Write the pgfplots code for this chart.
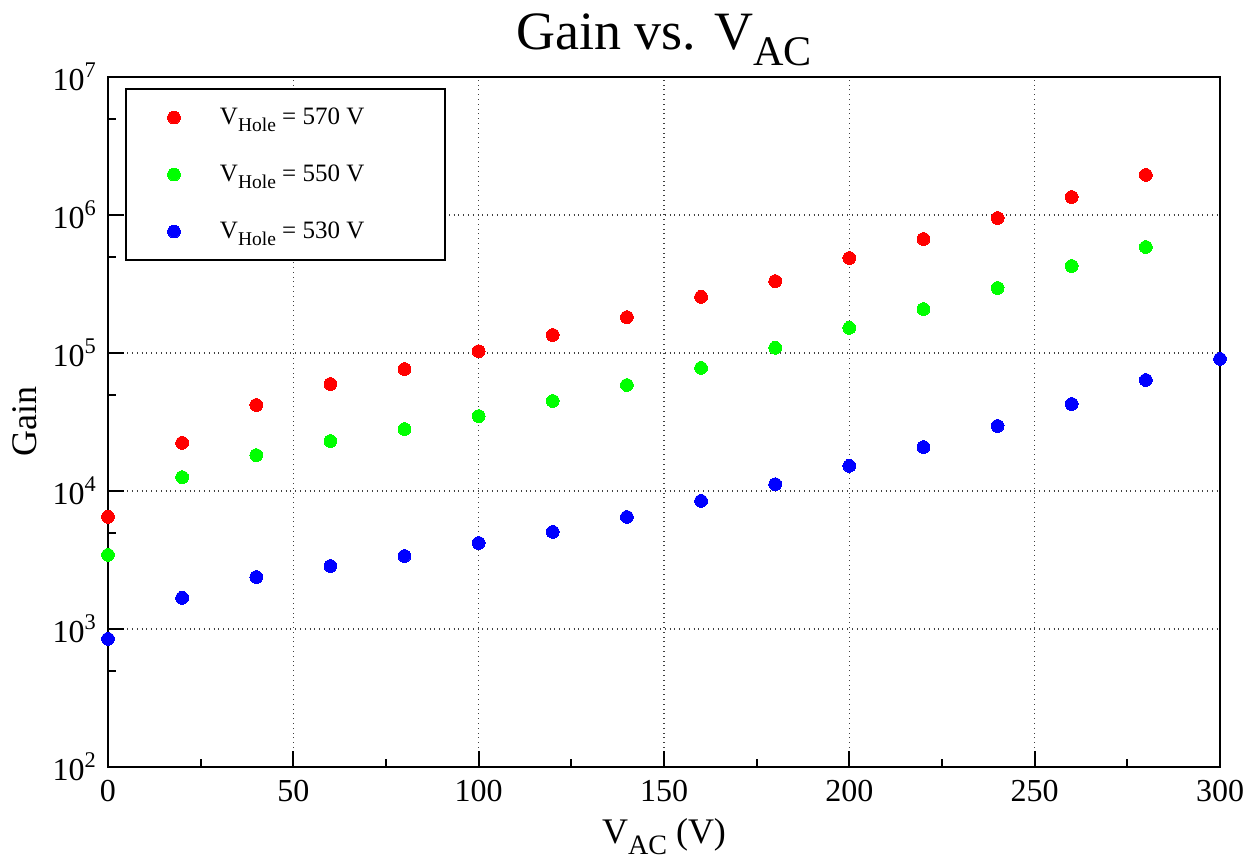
\documentclass[border=0pt]{standalone}
\usepackage{fontspec}
\setmainfont{Liberation Serif}
\usepackage{graphicx}
\usepackage{pgfplots}
\pgfplotsset{compat=1.18}
\newcommand{\gsub}[1]{\raisebox{-0.3em}{\scalebox{0.78}{#1}}}
\begin{document}
\begin{tikzpicture}
\path[use as bounding box] (0,0) rectangle (624.5pt,430pt);
\begin{axis}[
  at={(54pt,46.5pt)}, anchor=south west,
  width=556pt, height=345pt, scale only axis,
  xmin=0, xmax=300, ymode=log, ymin=1e2, ymax=1e7,
  axis line style={line width=1pt},
  xtick={0,50,100,150,200,250,300},
  minor xtick={25,75,125,175,225,275},
  ytick={1e2,1e3,1e4,1e5,1e6,1e7},
  yticklabels={10\textsuperscript{2},10\textsuperscript{3},10\textsuperscript{4},10\textsuperscript{5},10\textsuperscript{6},10\textsuperscript{7}},
  minor ytick={5e2,5e3,5e4,5e5,5e6},
  tick align=inside, tick pos=left,
  major tick length=8pt, minor tick length=4pt,
  every tick/.style={black, line width=1pt},
  grid=major,
  major grid style={dotted, black!75, line width=0.6pt},
  /pgf/number format/assume math mode=true,
  tick label style={font=\fontsize{16}{18}\selectfont},
  xticklabel style={yshift=-3pt},
  yticklabel style={xshift=-2pt},
  title={Gain vs. V\gsub{AC}},
  title style={font=\fontsize{27}{30}\selectfont, yshift=-4pt},
  xlabel={V\gsub{AC} (V)},
  ylabel={Gain},
  label style={font=\fontsize{18}{20}\selectfont},
  xlabel style={yshift=-1.5pt},
  ylabel style={yshift=1pt},
  legend style={at={(axis description cs:0,1)}, anchor=north west,
    xshift=8.5pt, yshift=-5.5pt,
    draw=black, line width=1pt, font=\fontsize{12.5}{14}\selectfont,
    inner xsep=0pt, inner ysep=0pt, row sep=0pt},
  legend cell align=left,
  legend image code/.code={\path[draw=none,fill=none] (-24pt,-14.25pt) rectangle (21pt,14.25pt); \draw[#1,line width=0pt] plot coordinates {(0pt,0pt)};},
  clip=false,
]
\addplot[only marks, mark=*, mark size=3.2pt, draw=none, fill=red, mark options={draw=red,fill=red,line width=0pt}] coordinates {
(0,6500) (20,22300) (40,42000) (60,59600) (80,76500) (100,103000) (120,135000) (140,182000) (160,255000) (180,332000) (200,488000) (220,670000) (240,951000) (260,1350000) (280,1950000)};
\addlegendentry{V\gsub{Hole} = 570 V\hspace*{38.5pt}}
\addplot[only marks, mark=*, mark size=3.2pt, draw=none, fill=green, mark options={draw=green,fill=green,line width=0pt}] coordinates {
(0,3440) (20,12600) (40,18200) (60,23000) (80,28100) (100,34900) (120,44900) (140,58600) (160,77900) (180,109000) (200,152000) (220,208000) (240,296000) (260,427000) (280,586000)};
\addlegendentry{V\gsub{Hole} = 550 V\hspace*{38.5pt}}
\addplot[only marks, mark=*, mark size=3.2pt, draw=none, fill=blue, mark options={draw=blue,fill=blue,line width=0pt}] coordinates {
(0,847) (20,1680) (40,2380) (60,2860) (80,3380) (100,4200) (120,5050) (140,6480) (160,8470) (180,11200) (200,15200) (220,20800) (240,29600) (260,42700) (280,63700) (300,90500)};
\addlegendentry{V\gsub{Hole} = 530 V\hspace*{38.5pt}}
\end{axis}
\end{tikzpicture}
\end{document}
